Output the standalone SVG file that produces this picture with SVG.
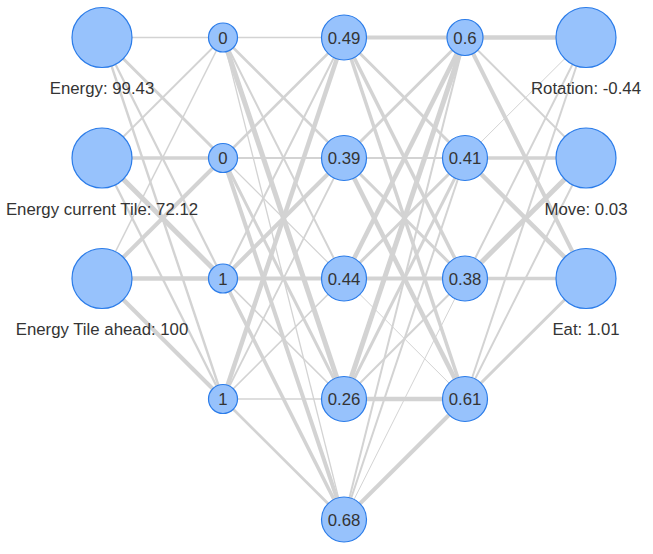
<svg xmlns="http://www.w3.org/2000/svg" width="653" height="554" viewBox="0 0 653 554">
<style>
.e{stroke:#d3d3d3;fill:none}
.n{fill:#97c2fc;stroke:#2b7ce9;stroke-width:1.2}
.t{font-family:"Liberation Sans",Arial,sans-serif;font-size:16.8px;fill:#343434;text-anchor:middle}
</style>
<rect width="653" height="554" fill="#ffffff"/>
<g id="connectors">
<!-- input -> hidden1 -->
<line class="e" x1="102" y1="37.5" x2="223" y2="37.5" stroke-width="1.4"/>
<line class="e" x1="102" y1="37.5" x2="223" y2="158" stroke-width="3"/>
<line class="e" x1="102" y1="37.5" x2="223" y2="278.5" stroke-width="2.2"/>
<line class="e" x1="102" y1="37.5" x2="223" y2="399" stroke-width="2.4"/>
<line class="e" x1="102" y1="158" x2="223" y2="37.5" stroke-width="1.8"/>
<line class="e" x1="102" y1="158" x2="223" y2="158" stroke-width="3.5"/>
<line class="e" x1="102" y1="158" x2="223" y2="278.5" stroke-width="5"/>
<line class="e" x1="102" y1="158" x2="223" y2="399" stroke-width="2.3"/>
<line class="e" x1="102" y1="278.5" x2="223" y2="37.5" stroke-width="1.5"/>
<line class="e" x1="102" y1="278.5" x2="223" y2="158" stroke-width="4"/>
<line class="e" x1="102" y1="278.5" x2="223" y2="278.5" stroke-width="4.5"/>
<line class="e" x1="102" y1="278.5" x2="223" y2="399" stroke-width="4"/>
<!-- hidden1 -> hidden2 -->
<line class="e" x1="223" y1="37.5" x2="344" y2="37.5" stroke-width="1.3"/>
<line class="e" x1="223" y1="37.5" x2="344" y2="158" stroke-width="2.5"/>
<line class="e" x1="223" y1="37.5" x2="344" y2="278.5" stroke-width="2"/>
<line class="e" x1="223" y1="37.5" x2="344" y2="399" stroke-width="5"/>
<line class="e" x1="223" y1="37.5" x2="344" y2="519.5" stroke-width="1.3"/>
<line class="e" x1="223" y1="158" x2="344" y2="37.5" stroke-width="2.5"/>
<line class="e" x1="223" y1="158" x2="344" y2="158" stroke-width="1.8"/>
<line class="e" x1="223" y1="158" x2="344" y2="278.5" stroke-width="1.2"/>
<line class="e" x1="223" y1="158" x2="344" y2="399" stroke-width="3"/>
<line class="e" x1="223" y1="158" x2="344" y2="519.5" stroke-width="4"/>
<line class="e" x1="223" y1="278.5" x2="344" y2="37.5" stroke-width="2"/>
<line class="e" x1="223" y1="278.5" x2="344" y2="158" stroke-width="4"/>
<line class="e" x1="223" y1="278.5" x2="344" y2="278.5" stroke-width="4"/>
<line class="e" x1="223" y1="278.5" x2="344" y2="399" stroke-width="1.7"/>
<line class="e" x1="223" y1="278.5" x2="344" y2="519.5" stroke-width="3.5"/>
<line class="e" x1="223" y1="399" x2="344" y2="37.5" stroke-width="4.5"/>
<line class="e" x1="223" y1="399" x2="344" y2="158" stroke-width="1.8"/>
<line class="e" x1="223" y1="399" x2="344" y2="278.5" stroke-width="1.7"/>
<line class="e" x1="223" y1="399" x2="344" y2="399" stroke-width="1.4"/>
<line class="e" x1="223" y1="399" x2="344" y2="519.5" stroke-width="2.8"/>
<!-- hidden2 -> hidden3 -->
<line class="e" x1="344" y1="37.5" x2="465" y2="37.5" stroke-width="4"/>
<line class="e" x1="344" y1="37.5" x2="465" y2="158" stroke-width="3"/>
<line class="e" x1="344" y1="37.5" x2="465" y2="278.5" stroke-width="3.5"/>
<line class="e" x1="344" y1="37.5" x2="465" y2="399" stroke-width="3.5"/>
<line class="e" x1="344" y1="158" x2="465" y2="37.5" stroke-width="3"/>
<line class="e" x1="344" y1="158" x2="465" y2="158" stroke-width="2"/>
<line class="e" x1="344" y1="158" x2="465" y2="278.5" stroke-width="3"/>
<line class="e" x1="344" y1="158" x2="465" y2="399" stroke-width="4.5"/>
<line class="e" x1="344" y1="278.5" x2="465" y2="37.5" stroke-width="4.5"/>
<line class="e" x1="344" y1="278.5" x2="465" y2="158" stroke-width="3"/>
<line class="e" x1="344" y1="278.5" x2="465" y2="278.5" stroke-width="4"/>
<line class="e" x1="344" y1="278.5" x2="465" y2="399" stroke-width="1"/>
<line class="e" x1="344" y1="399" x2="465" y2="37.5" stroke-width="5"/>
<line class="e" x1="344" y1="399" x2="465" y2="158" stroke-width="3"/>
<line class="e" x1="344" y1="399" x2="465" y2="278.5" stroke-width="2"/>
<line class="e" x1="344" y1="399" x2="465" y2="399" stroke-width="4.5"/>
<line class="e" x1="344" y1="519.5" x2="465" y2="37.5" stroke-width="2"/>
<line class="e" x1="344" y1="519.5" x2="465" y2="158" stroke-width="2"/>
<line class="e" x1="344" y1="519.5" x2="465" y2="278.5" stroke-width="1"/>
<line class="e" x1="344" y1="519.5" x2="465" y2="399" stroke-width="4"/>
<!-- hidden3 -> output -->
<line class="e" x1="465" y1="37.5" x2="586" y2="37.5" stroke-width="4.5"/>
<line class="e" x1="465" y1="37.5" x2="586" y2="158" stroke-width="2"/>
<line class="e" x1="465" y1="37.5" x2="586" y2="278.5" stroke-width="4"/>
<line class="e" x1="465" y1="158" x2="586" y2="37.5" stroke-width="1"/>
<line class="e" x1="465" y1="158" x2="586" y2="158" stroke-width="3.5"/>
<line class="e" x1="465" y1="158" x2="586" y2="278.5" stroke-width="4.5"/>
<line class="e" x1="465" y1="278.5" x2="586" y2="37.5" stroke-width="2"/>
<line class="e" x1="465" y1="278.5" x2="586" y2="158" stroke-width="5"/>
<line class="e" x1="465" y1="278.5" x2="586" y2="278.5" stroke-width="3.5"/>
<line class="e" x1="465" y1="399" x2="586" y2="37.5" stroke-width="2"/>
<line class="e" x1="465" y1="399" x2="586" y2="158" stroke-width="2"/>
<line class="e" x1="465" y1="399" x2="586" y2="278.5" stroke-width="3"/>
</g>
<g id="in-energy"><circle class="n" cx="102" cy="37.5" r="30"/><text class="t" x="102" y="94">Energy: 99.43</text></g>
<g id="in-energy-current"><circle class="n" cx="102" cy="158" r="30"/><text class="t" x="102" y="214.5">Energy current Tile: 72.12</text></g>
<g id="in-energy-ahead"><circle class="n" cx="102" cy="278.5" r="30"/><text class="t" x="102" y="335">Energy Tile ahead: 100</text></g>
<g id="h1-0"><circle class="n" cx="223" cy="37.5" r="14.5"/><text class="t" x="223" y="43.5">0</text></g>
<g id="h1-1"><circle class="n" cx="223" cy="158" r="14.5"/><text class="t" x="223" y="164">0</text></g>
<g id="h1-2"><circle class="n" cx="223" cy="278.5" r="14.5"/><text class="t" x="223" y="284.5">1</text></g>
<g id="h1-3"><circle class="n" cx="223" cy="399" r="14.5"/><text class="t" x="223" y="405">1</text></g>
<g id="h2-0"><circle class="n" cx="344" cy="37.5" r="22.5"/><text class="t" x="344" y="43.5">0.49</text></g>
<g id="h2-1"><circle class="n" cx="344" cy="158" r="22.5"/><text class="t" x="344" y="164">0.39</text></g>
<g id="h2-2"><circle class="n" cx="344" cy="278.5" r="22.5"/><text class="t" x="344" y="284.5">0.44</text></g>
<g id="h2-3"><circle class="n" cx="344" cy="399" r="22.5"/><text class="t" x="344" y="405">0.26</text></g>
<g id="h2-4"><circle class="n" cx="344" cy="519.5" r="22.5"/><text class="t" x="344" y="525.5">0.68</text></g>
<g id="h3-0"><circle class="n" cx="465" cy="37.5" r="18"/><text class="t" x="465" y="43.5">0.6</text></g>
<g id="h3-1"><circle class="n" cx="465" cy="158" r="22.5"/><text class="t" x="465" y="164">0.41</text></g>
<g id="h3-2"><circle class="n" cx="465" cy="278.5" r="22.5"/><text class="t" x="465" y="284.5">0.38</text></g>
<g id="h3-3"><circle class="n" cx="465" cy="399" r="22.5"/><text class="t" x="465" y="405">0.61</text></g>
<g id="out-rotation"><circle class="n" cx="586" cy="37.5" r="30"/><text class="t" x="586" y="94">Rotation: -0.44</text></g>
<g id="out-move"><circle class="n" cx="586" cy="158" r="30"/><text class="t" x="586" y="214.5">Move: 0.03</text></g>
<g id="out-eat"><circle class="n" cx="586" cy="278.5" r="30"/><text class="t" x="586" y="335">Eat: 1.01</text></g>
</svg>
